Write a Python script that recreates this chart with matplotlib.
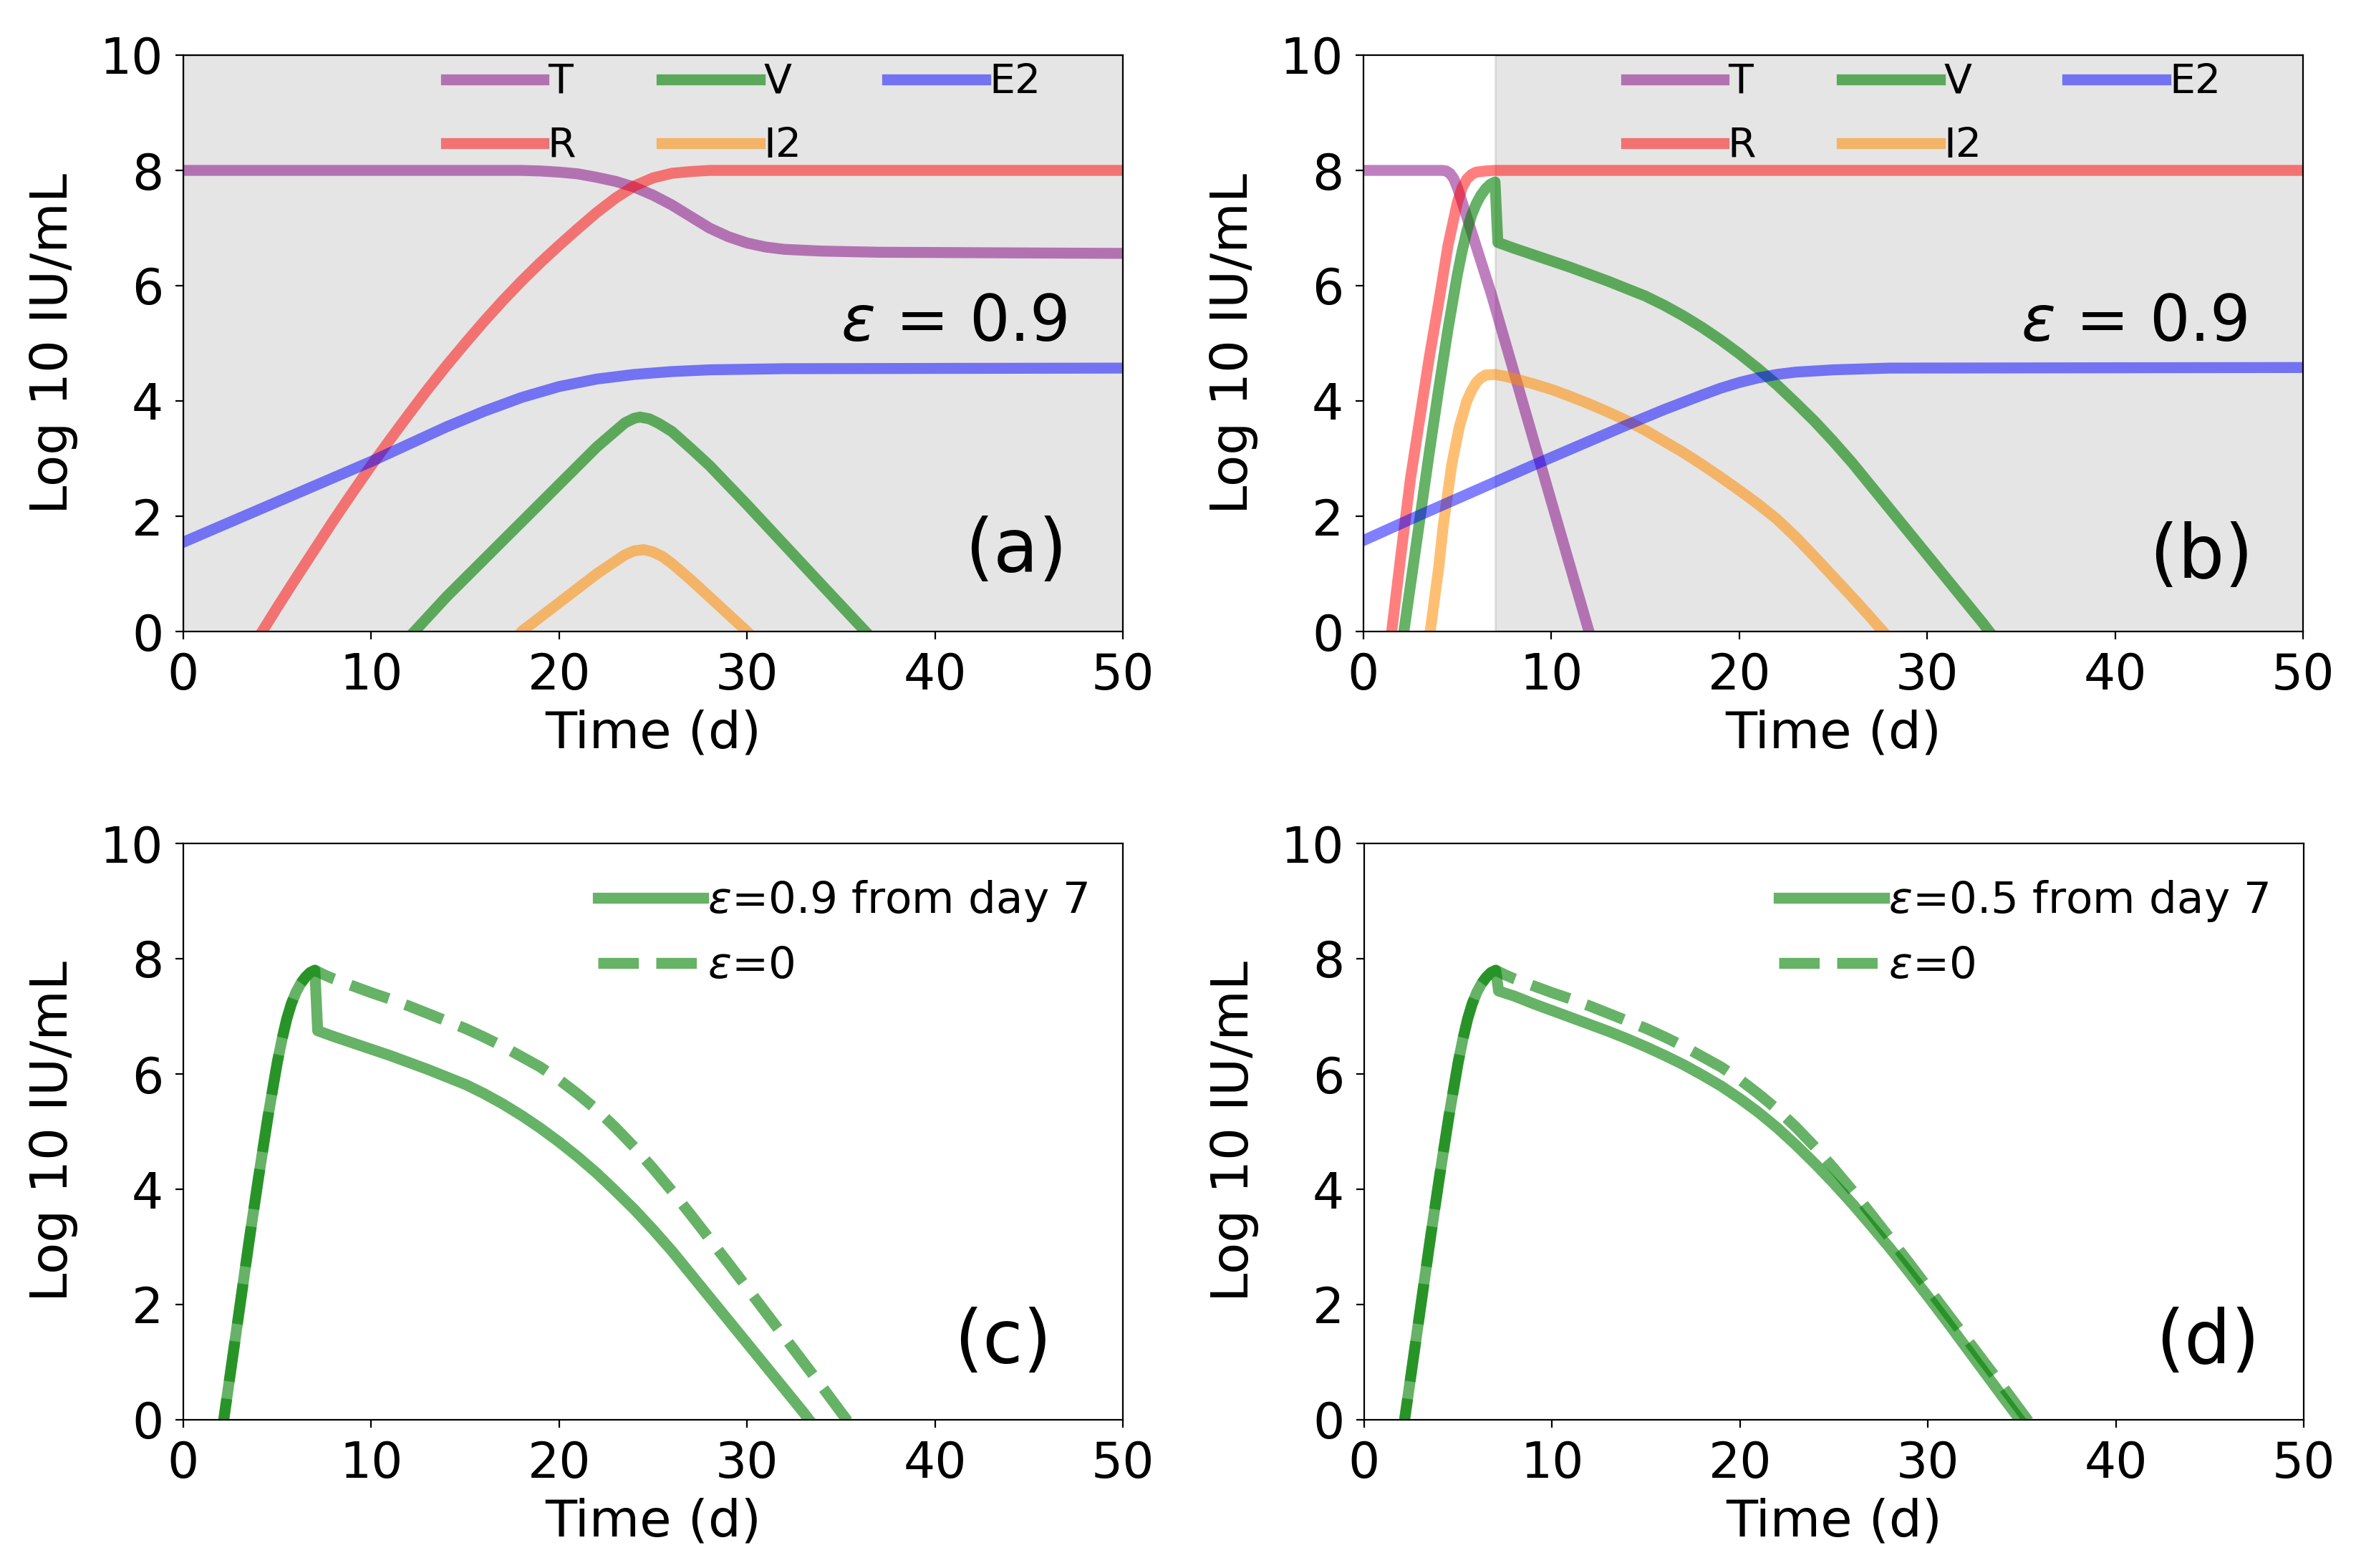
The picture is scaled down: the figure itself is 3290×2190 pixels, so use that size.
import numpy as np
import matplotlib
matplotlib.use("Agg")
import matplotlib.pyplot as plt

# ---- panel (a): eps = 0.9 from day 0 ----
a_T_t = [0, 18, 19, 20, 21, 22, 23, 24, 25, 26, 27, 28, 29, 30, 31, 32, 34, 37, 50]
a_T = [8.0, 8.0, 7.99, 7.97, 7.94, 7.88, 7.81, 7.71, 7.57, 7.4, 7.2, 7.0, 6.85, 6.74,
       6.67, 6.63, 6.6, 6.58, 6.56]
a_R_t = [3.9, 4.2, 5, 6, 7, 8, 9, 10, 11, 12, 13, 14, 15, 16, 17, 18, 19, 20, 21, 22,
         23, 24, 25, 26, 27, 28, 50]
a_R = [-0.15, 0.0, 0.42, 0.93, 1.43, 1.93, 2.41, 2.88, 3.33, 3.77, 4.2, 4.61, 5.0, 5.38,
       5.74, 6.08, 6.4, 6.7, 6.99, 7.27, 7.52, 7.73, 7.87, 7.95, 7.98, 8.0, 8.0]
a_V_t = [12.0, 12.3, 14, 16, 18, 20, 22, 23, 23.5, 24, 24.3, 24.8, 25.3, 26, 27, 28, 30,
         32, 34, 36.3, 36.6]
a_V = [-0.1, 0.0, 0.6, 1.25, 1.9, 2.55, 3.2, 3.48, 3.62, 3.7, 3.72, 3.69, 3.61, 3.47,
       3.18, 2.88, 2.2, 1.5, 0.8, 0.0, -0.1]
a_I2_t = [17.8, 18, 19, 20, 21, 22, 23, 23.5, 24, 24.5, 25, 25.5, 26, 27, 28, 29, 30, 30.3]
a_I2 = [-0.1, 0.0, 0.25, 0.5, 0.75, 1.0, 1.22, 1.33, 1.4, 1.42, 1.38, 1.3, 1.18, 0.9,
        0.6, 0.3, 0.0, -0.1]
a_E2_t = [0, 2, 4, 6, 8, 10, 12, 14, 16, 18, 20, 22, 24, 26, 28, 32, 50]
a_E2 = [1.55, 1.83, 2.11, 2.39, 2.67, 2.95, 3.25, 3.55, 3.82, 4.06, 4.25, 4.38, 4.46,
        4.51, 4.54, 4.56, 4.57]

# ---- panel (b): eps = 0.9 from day 7 ----
b_T_t = [0, 4.2, 4.4, 4.6, 4.8, 5.0, 5.2, 6.8, 9.4, 12.0, 12.3]
b_T = [8.0, 8.0, 7.99, 7.95, 7.86, 7.7, 7.5, 5.86, 2.93, 0.0, -0.33]
b_R_t = [1.35, 1.5, 2, 2.5, 3, 3.5, 4, 4.5, 5, 5.25, 5.5, 5.75, 6, 6.5, 7, 50]
b_R = [-0.4, 0.0, 1.35, 2.65, 3.7, 4.75, 5.7, 6.7, 7.45, 7.7, 7.85, 7.93, 7.97, 7.99,
       8.0, 8.0]
b_I2_t = [3.4, 3.55, 4, 4.25, 4.7, 5.1, 5.5, 5.75, 6, 6.25, 6.5, 7, 7.5, 8, 9, 10, 11,
          12, 13, 14, 15, 16, 17, 18, 19, 20, 21, 22, 23, 24, 25, 26, 27, 27.65, 28.0]
b_I2 = [-0.4, 0.0, 1.1, 1.85, 2.9, 3.55, 4.0, 4.18, 4.32, 4.4, 4.45, 4.46, 4.43, 4.39,
        4.3, 4.2, 4.08, 3.95, 3.81, 3.66, 3.49, 3.3, 3.11, 2.9, 2.68, 2.45, 2.21, 1.95,
        1.64, 1.3, 0.95, 0.6, 0.24, 0.0, -0.13]
b_E2_t = [0, 3, 6, 9, 12, 14, 16, 18, 19, 20, 21, 22, 23, 25, 28, 50]
b_E2 = [1.58, 2.02, 2.45, 2.88, 3.3, 3.58, 3.85, 4.1, 4.22, 4.32, 4.4, 4.46, 4.5, 4.54,
        4.57, 4.58]

# viral load V, rise before treatment (shared)
rise_t = [2.0, 2.15, 2.5, 3, 3.5, 4, 4.5, 5, 5.25, 5.5, 5.75, 6, 6.25, 6.5, 6.75, 7.0]
rise_V = [-0.33, 0.0, 0.8, 1.95, 3.1, 4.2, 5.25, 6.2, 6.6, 6.95, 7.22, 7.42, 7.57, 7.68,
          7.76, 7.8]
# after day 7
eps09_t = [7.15, 8, 9, 10, 11, 12, 13, 14, 15, 16, 17, 18, 19, 20, 21, 22, 23, 24, 25,
           26, 27, 28, 29, 30, 31, 32, 33, 33.3, 33.6]
eps09_V = [6.75, 6.65, 6.54, 6.43, 6.32, 6.2, 6.08, 5.95, 5.82, 5.66, 5.48, 5.28, 5.06,
           4.82, 4.56, 4.28, 3.97, 3.65, 3.3, 2.93, 2.53, 2.13, 1.73, 1.33, 0.93, 0.53,
           0.13, 0.0, -0.12]
eps05_t = [7.15, 8, 9, 10, 11, 12, 13, 14, 15, 16, 17, 18, 19, 20, 21, 22, 23, 24, 25,
           26, 27, 28, 29, 30, 31, 32, 33, 34, 34.9, 35.3]
eps05_V = [7.44, 7.35, 7.22, 7.1, 6.98, 6.86, 6.74, 6.61, 6.47, 6.32, 6.16, 5.98, 5.79,
           5.57, 5.33, 5.06, 4.76, 4.44, 4.1, 3.74, 3.36, 2.97, 2.56, 2.14, 1.71, 1.27,
           0.83, 0.39, 0.0, -0.17]
eps0_t = [7.5, 8, 9, 10, 11, 12, 13, 14, 15, 16, 17, 18, 19, 20, 21, 22, 23, 24, 25, 26,
          27, 28, 29, 30, 31, 32, 33, 34, 35.3, 35.7]
eps0_V = [7.72, 7.65, 7.53, 7.41, 7.3, 7.18, 7.05, 6.92, 6.79, 6.64, 6.48, 6.3, 6.12,
          5.9, 5.65, 5.38, 5.07, 4.73, 4.36, 3.97, 3.56, 3.14, 2.72, 2.29, 1.86, 1.43,
          1.0, 0.57, 0.0, -0.17]

panel_labels = ["(a)", "(b)", "(c)", "(d)"]
bottom_labels = [r"$\epsilon$=0.9 from day 7", r"$\epsilon$=0.5 from day 7"]

FS = 25
LW = 5.5
plt.rcParams["font.size"] = FS

fig = plt.figure(figsize=(16.45, 10.95), dpi=200)
W, H = 3290, 2190
boxes = [(256, 77), (1904, 77), (256, 1178), (1905, 1178)]
aw, ah = 1312, 805
axes = [fig.add_axes([x / W, 1 - (y + ah) / H, aw / W, ah / H]) for x, y in boxes]


def setup(ax):
    ax.set_xlim(0, 50)
    ax.set_ylim(0, 10)
    ax.set_xticks(range(0, 51, 10))
    ax.set_yticks(range(0, 11, 2))
    ax.tick_params(labelsize=FS, length=4, pad=6)
    ax.set_xlabel("Time (d)", fontsize=FS + 1, labelpad=5)
    ax.set_ylabel("Log 10 IU/mL", fontsize=FS + 1, labelpad=11)


def model_panel(ax, T, R, V, I2, E2, span_start):
    ax.axvspan(span_start, 50, color="gray", alpha=0.2)
    ax.plot(T[0], T[1], color="purple", alpha=0.5, lw=LW, label="T")
    ax.plot(R[0], R[1], color="red", alpha=0.5, lw=LW, label="R")
    ax.plot(V[0], V[1], color="green", alpha=0.6, lw=LW, label="V")
    ax.plot(I2[0], I2[1], color="darkorange", alpha=0.55, lw=LW, label="I2")
    ax.plot(E2[0], E2[1], color="blue", alpha=0.5, lw=LW, label="E2")
    ax.legend(ncol=3, frameon=False, loc="upper right", bbox_to_anchor=(0.915, 0.99),
              borderaxespad=0, borderpad=0.05, fontsize=20.5, handlelength=2.4,
              handletextpad=0.1, columnspacing=2.1, labelspacing=0.6)
    ax.text(0.82, 0.535, r"$\epsilon$ = 0.9", transform=ax.transAxes,
            fontsize=32, ha="center", va="center")
    setup(ax)


ax = axes[0]
model_panel(ax, (a_T_t, a_T), (a_R_t, a_R), (a_V_t, a_V), (a_I2_t, a_I2),
            (a_E2_t, a_E2), 0)

ax = axes[1]
b_V_t = rise_t + eps09_t
b_V = rise_V + eps09_V
model_panel(ax, (b_T_t, b_T), (b_R_t, b_R), (b_V_t, b_V), (b_I2_t, b_I2),
            (b_E2_t, b_E2), 7)

# bottom panels
treated = [(eps09_t, eps09_V), (eps05_t, eps05_V)]
for ax, (tt, vv), lab in zip(axes[2:], treated, bottom_labels):
    ax.plot(rise_t + tt, rise_V + vv, color="green", alpha=0.6, lw=LW, label=lab)
    ax.plot(rise_t + eps0_t, rise_V + eps0_V, color="green", alpha=0.6, lw=LW,
            ls="--", label=r"$\epsilon$=0")
    ax.legend(frameon=False, loc="upper right", fontsize=22, handlelength=2.4,
              handletextpad=0.1, labelspacing=0.5, borderaxespad=0.4)
    setup(ax)

pos = [(0.886, 0.138), (0.892, 0.129), (0.872, 0.133), (0.898, 0.133)]
for ax, lab, (px, py) in zip(axes, panel_labels, pos):
    ax.text(px, py, lab, transform=ax.transAxes, fontsize=37, ha="center", va="center")

fig.savefig("out.png", dpi=200)
